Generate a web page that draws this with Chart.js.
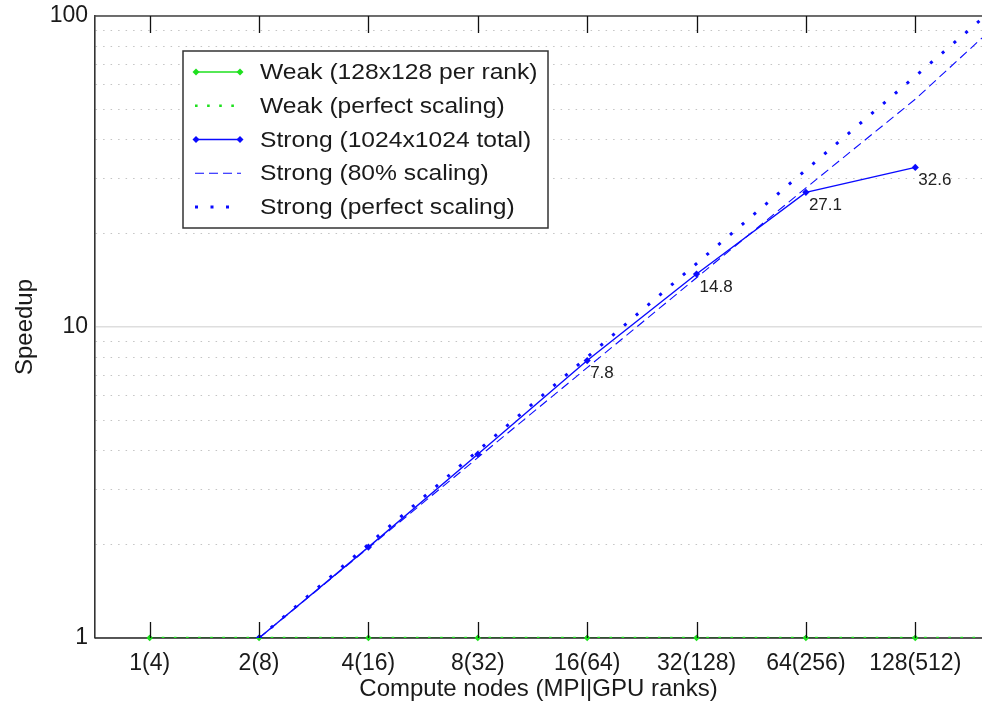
<!DOCTYPE html>
<html lang="en">
<head>
<meta charset="UTF-8">
<title>Weak and strong scaling speedup</title>
<script src="https://cdn.jsdelivr.net/npm/chart.js@4"></script>
<style>
    body { margin: 0; background: #ffffff; }
    #wrap { width: 982px; height: 708px; }
</style>
</head>
<body>
<div id="wrap"><canvas id="speedupChart" width="982" height="708"></canvas></div>
<script>
// x is the node-count position (0 = 1 node ... 7 = 128 nodes), xEdge = right border of the plot
const nodeLabels = ['1(4)', '2(8)', '4(16)', '8(32)', '16(64)', '32(128)', '64(256)', '128(512)'];
const nodeIndex = [0, 1, 2, 3, 4, 5, 6, 7];
const xEdge = 7.61;

const weakSpeedup = [1, 1, 1, 1, 1, 1, 1, 1];
const weakPerfectX = [0, xEdge];
const weakPerfectY = [1, 1];

const strongX = [1, 2, 3, 4, 5, 6, 7];
const strongSpeedup = [1, 1.96, 3.9, 7.8, 14.8, 27.1, 32.6];
const strongLabels = ['', '', '', '7.8', '14.8', '27.1', '32.6'];

const strong80X = [1, 2, 3, 4, 5, 6, 7, xEdge];
const strong80Y = [1, 1.95, 3.8, 7.4, 14.4, 28, 54, 85];

const strongPerfectX = [1, 2, 3, 4, 5, 6, 7, xEdge];
const strongPerfectY = [1, 2, 4, 8, 16, 32, 64, 98];

const yTicks = [1, 2, 3, 4, 5, 6, 7, 8, 9, 10, 20, 30, 40, 50, 60, 70, 80, 90, 100];
const yMajor = [1, 10, 100];

const FONT = '"Liberation Sans", Arial, Helvetica, sans-serif';
const GREEN = '#1ee01e';
const BLUE = '#0a0aff';

const pts = (xs, ys) => xs.map((x, i) => ({ x: x, y: ys[i] }));

// bottom axis goes over the weak line, then its markers are put back on top
const frame = {
    id: 'frame',
    afterDatasetDraw(chart, args) {
        if (args.index !== 0) return;
        const { ctx, chartArea: a } = chart;
        ctx.save();
        ctx.strokeStyle = '#262626';
        ctx.lineWidth = 1.6;
        ctx.beginPath();
        ctx.moveTo(a.left, a.bottom);
        ctx.lineTo(a.right, a.bottom);
        ctx.stroke();
        ctx.restore();
        args.meta.data.forEach(p => p.draw(ctx, a));
    },
    afterDatasetsDraw(chart) {
        const { ctx, chartArea: a, scales: { x } } = chart;
        ctx.save();
        ctx.strokeStyle = '#444';
        ctx.lineWidth = 1.6;
        ctx.beginPath();
        ctx.moveTo(a.left - 1, a.top);
        ctx.lineTo(a.right, a.top);
        ctx.stroke();
        // inward tick marks, top and bottom
        ctx.strokeStyle = '#111';
        ctx.lineWidth = 1.3;
        x.ticks.forEach(t => {
            const px = Math.round(x.getPixelForValue(t.value)) + 0.5;
            ctx.beginPath();
            ctx.moveTo(px, a.bottom);
            ctx.lineTo(px, a.bottom - 16);
            ctx.moveTo(px, a.top);
            ctx.lineTo(px, a.top + 17);
            ctx.stroke();
        });
        ctx.restore();
    }
};

const pointLabels = {
    id: 'pointLabels',
    afterDatasetsDraw(chart) {
        const ctx = chart.ctx;
        const meta = chart.getDatasetMeta(2);
        ctx.save();
        ctx.font = '17px ' + FONT;
        ctx.fillStyle = '#222';
        ctx.textAlign = 'left';
        ctx.textBaseline = 'middle';
        meta.data.forEach((p, i) => {
            if (strongLabels[i]) ctx.fillText(strongLabels[i], p.x + 3, p.y + 13);
        });
        ctx.restore();
    }
};

function diamond(ctx, x, y, r) {
    ctx.beginPath();
    ctx.moveTo(x, y - r);
    ctx.lineTo(x + r, y);
    ctx.lineTo(x, y + r);
    ctx.lineTo(x - r, y);
    ctx.closePath();
    ctx.fill();
}

// legend box sitting inside the plot, like the original figure
const boxLegend = {
    id: 'boxLegend',
    afterDraw(chart) {
        const ctx = chart.ctx;
        const left = 183, top = 51, w = 365, h = 177;
        ctx.save();
        ctx.fillStyle = '#fff';
        ctx.fillRect(left, top, w, h);
        ctx.strokeStyle = '#333';
        ctx.lineWidth = 1.5;
        ctx.strokeRect(left, top, w, h);
        chart.data.datasets.forEach((ds, i) => {
            const y = top + 21 + i * 33.75;
            ctx.save();
            ctx.strokeStyle = ds.borderColor;
            ctx.fillStyle = ds.borderColor;
            ctx.lineWidth = ds.borderWidth;
            ctx.setLineDash(ds.borderDash || []);
            ctx.beginPath();
            ctx.moveTo(195, y);
            ctx.lineTo(241, y);
            ctx.stroke();
            if (ds.pointRadius) {
                diamond(ctx, 196, y, 3.5);
                diamond(ctx, 240, y, 3.5);
            }
            ctx.restore();
            ctx.save();
            ctx.font = '22px ' + FONT;
            ctx.fillStyle = '#1a1a1a';
            ctx.textBaseline = 'middle';
            ctx.translate(260, y + 1);
            ctx.scale(1.12, 1);
            ctx.fillText(ds.label, 0, 0);
            ctx.restore();
        });
        ctx.restore();
    }
};

new Chart(document.getElementById('speedupChart'), {
    type: 'line',
    data: {
        datasets: [
            {
                label: 'Weak (128x128 per rank)',
                data: pts(nodeIndex, weakSpeedup),
                borderColor: GREEN, backgroundColor: GREEN,
                borderWidth: 1.5, pointStyle: 'rectRot', pointRadius: 3.2, pointBorderWidth: 0,
                order: 5
            },
            {
                label: 'Weak (perfect scaling)',
                data: pts(weakPerfectX, weakPerfectY),
                borderColor: GREEN, borderWidth: 2.6, borderDash: [2.6, 9.5],
                pointRadius: 0, order: 4
            },
            {
                label: 'Strong (1024x1024 total)',
                data: pts(strongX, strongSpeedup),
                borderColor: BLUE, backgroundColor: BLUE,
                borderWidth: 1.4, pointStyle: 'rectRot', pointRadius: 3.6, pointBorderWidth: 0,
                order: 1
            },
            {
                label: 'Strong (80% scaling)',
                data: pts(strong80X, strong80Y),
                borderColor: BLUE, borderWidth: 1.1, borderDash: [9, 5],
                pointRadius: 0, order: 3
            },
            {
                label: 'Strong (perfect scaling)',
                data: pts(strongPerfectX, strongPerfectY),
                borderColor: BLUE, borderWidth: 3, borderDash: [3, 12.5],
                pointRadius: 0, order: 2
            }
        ]
    },
    options: {
        responsive: false,
        animation: false,
        layout: { autoPadding: false, padding: { top: 16, right: 0, bottom: 0, left: 0 } },
        plugins: {
            legend: { display: false },
            tooltip: { enabled: false }
        },
        scales: {
            x: {
                type: 'linear',
                min: -0.5,
                max: xEdge,
                afterBuildTicks: s => { s.ticks = nodeIndex.map(v => ({ value: v })); },
                afterFit: s => { s.height = 70; },
                ticks: {
                    callback: v => nodeLabels[v],
                    autoSkip: false, maxRotation: 0,
                    padding: 4,
                    color: '#1a1a1a',
                    font: { family: FONT, size: 23 }
                },
                grid: { display: false },
                border: { display: false },
                title: {
                    display: true,
                    text: 'Compute nodes (MPI|GPU ranks)',
                    color: '#1a1a1a',
                    font: { family: FONT, size: 24 },
                    padding: { top: 0, bottom: 4.6 }
                }
            },
            y: {
                type: 'logarithmic',
                min: 1,
                max: 100,
                afterBuildTicks: s => { s.ticks = yTicks.map(v => ({ value: v })); },
                afterFit: s => { s.width = 95; s.paddingTop = 0; s.paddingBottom = 0; },
                ticks: {
                    callback: v => yMajor.includes(v) ? String(v) : '',
                    autoSkip: false,
                    padding: 7,
                    color: '#1a1a1a',
                    font: { family: FONT, size: 23 }
                },
                grid: {
                    drawTicks: false,
                    color: c => (c.tick && yMajor.includes(c.tick.value)) ? '#dedede' : '#c4c4c4',
                    lineWidth: c => (c.tick && yMajor.includes(c.tick.value)) ? 1.5 : 1
                },
                border: {
                    display: true,
                    color: '#333',
                    width: 1.6,
                    dash: c => (c.tick && !yMajor.includes(c.tick.value)) ? [1.5, 6] : []
                },
                title: {
                    display: true,
                    text: 'Speedup',
                    color: '#1a1a1a',
                    font: { family: FONT, size: 24 },
                    padding: { top: 10.6, bottom: 0 }
                }
            }
        }
    },
    plugins: [frame, pointLabels, boxLegend]
});
</script>
</body>
</html>
